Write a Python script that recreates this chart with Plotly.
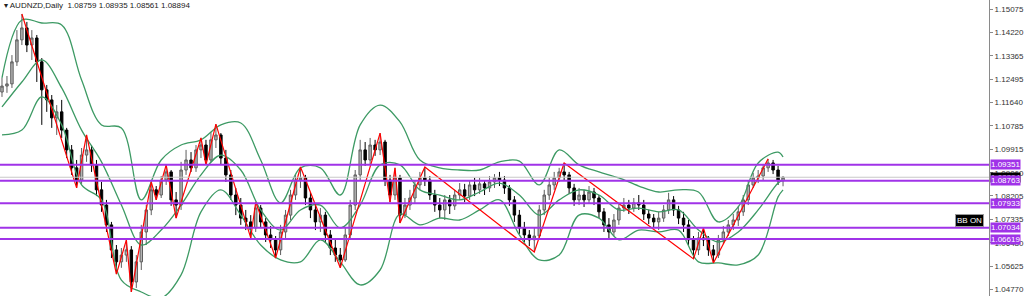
import plotly.graph_objects as go

# ---------------- data (AUDNZD, Daily) ----------------
open_ = [1.1203, 1.1225, 1.1233, 1.1314, 1.1395, 1.1439, 1.1376, 1.1402, 1.1314, 1.1211,
         1.1174, 1.1108, 1.1130, 1.1063, 1.0990, 1.0924, 1.0879, 1.0971, 1.0990, 1.0935,
         1.0843, 1.0787, 1.0714, 1.0622, 1.0578, 1.0603, 1.0622, 1.0504, 1.0578, 1.0688,
         1.0769, 1.0843, 1.0824, 1.0879, 1.0909, 1.0806, 1.0787, 1.0916, 1.0953, 1.0924,
         1.0990, 1.1008, 1.0953, 1.1027, 1.1045, 1.0960, 1.0898, 1.0824, 1.0787, 1.0739,
         1.0725, 1.0703, 1.0776, 1.0725, 1.0677, 1.0659, 1.0622, 1.0688, 1.0750, 1.0824,
         1.0879, 1.0887, 1.0813, 1.0769, 1.0725, 1.0750, 1.0677, 1.0629, 1.0603, 1.0585,
         1.0677, 1.0787, 1.0898, 1.0990, 1.0953, 1.1008, 1.0990, 1.1019, 1.0879, 1.0824,
         1.0887, 1.0750, 1.0787, 1.0813, 1.0861, 1.0887, 1.0879, 1.0824, 1.0787, 1.0769,
         1.0806, 1.0784, 1.0824, 1.0843, 1.0820, 1.0861, 1.0843, 1.0865, 1.0850, 1.0872,
         1.0887, 1.0879, 1.0850, 1.0806, 1.0750, 1.0703, 1.0677, 1.0659, 1.0673, 1.0769,
         1.0824, 1.0861, 1.0887, 1.0909, 1.0898, 1.0850, 1.0806, 1.0824, 1.0806, 1.0835,
         1.0813, 1.0762, 1.0714, 1.0688, 1.0732, 1.0776, 1.0787, 1.0776, 1.0795, 1.0787,
         1.0754, 1.0739, 1.0725, 1.0739, 1.0769, 1.0806, 1.0769, 1.0739, 1.0714, 1.0659,
         1.0622, 1.0666, 1.0659, 1.0622, 1.0603, 1.0659, 1.0688, 1.0714, 1.0732, 1.0762,
         1.0806, 1.0861, 1.0887, 1.0894, 1.0924, 1.0942, 1.0916, 1.08759]
high = [1.1255, 1.1262, 1.1339, 1.1431, 1.1490, 1.1461, 1.1431, 1.1413, 1.1328, 1.1229,
        1.1192, 1.1155, 1.1174, 1.1071, 1.1008, 1.0953, 1.0997, 1.1045, 1.1008, 1.0953,
        1.0872, 1.0806, 1.0725, 1.0640, 1.0629, 1.0659, 1.0636, 1.0603, 1.0714, 1.0787,
        1.0872, 1.0857, 1.0894, 1.0935, 1.0916, 1.0835, 1.0946, 1.0990, 1.0982, 1.1008,
        1.1034, 1.1027, 1.1056, 1.1085, 1.1052, 1.0990, 1.0916, 1.0850, 1.0813, 1.0769,
        1.0750, 1.0798, 1.0787, 1.0739, 1.0710, 1.0673, 1.0714, 1.0769, 1.0843, 1.0898,
        1.0927, 1.0898, 1.0835, 1.0787, 1.0776, 1.0762, 1.0695, 1.0659, 1.0629, 1.0703,
        1.0806, 1.0916, 1.1027, 1.1019, 1.1034, 1.1027, 1.1052, 1.1027, 1.0898, 1.0924,
        1.0898, 1.0813, 1.0843, 1.0879, 1.0909, 1.0927, 1.0894, 1.0843, 1.0813, 1.0824,
        1.0824, 1.0843, 1.0868, 1.0865, 1.0879, 1.0887, 1.0887, 1.0879, 1.0894, 1.0901,
        1.0909, 1.0894, 1.0861, 1.0820, 1.0769, 1.0725, 1.0695, 1.0703, 1.0787, 1.0843,
        1.0887, 1.0909, 1.0924, 1.0942, 1.0909, 1.0865, 1.0850, 1.0843, 1.0857, 1.0850,
        1.0824, 1.0776, 1.0739, 1.0754, 1.0791, 1.0813, 1.0806, 1.0813, 1.0824, 1.0806,
        1.0769, 1.0754, 1.0762, 1.0787, 1.0832, 1.0820, 1.0784, 1.0762, 1.0732, 1.0673,
        1.0688, 1.0703, 1.0673, 1.0640, 1.0677, 1.0710, 1.0732, 1.0754, 1.0784, 1.0824,
        1.0879, 1.0905, 1.0916, 1.0935, 1.0957, 1.0953, 1.0931, 1.08935]
low = [1.1185, 1.1200, 1.1218, 1.1299, 1.1376, 1.1350, 1.1321, 1.1240, 1.1082, 1.1130,
       1.1071, 1.1045, 1.1034, 1.0960, 1.0898, 1.0850, 1.0865, 1.0946, 1.0909, 1.0820,
       1.0762, 1.0688, 1.0592, 1.0533, 1.0556, 1.0578, 1.0467, 1.0482, 1.0548, 1.0640,
       1.0750, 1.0806, 1.0813, 1.0861, 1.0784, 1.0739, 1.0769, 1.0898, 1.0909, 1.0909,
       1.0960, 1.0935, 1.0946, 1.0997, 1.0935, 1.0872, 1.0806, 1.0750, 1.0714, 1.0695,
       1.0666, 1.0688, 1.0703, 1.0651, 1.0629, 1.0592, 1.0603, 1.0666, 1.0732, 1.0806,
       1.0850, 1.0787, 1.0739, 1.0695, 1.0688, 1.0651, 1.0603, 1.0578, 1.0556, 1.0578,
       1.0659, 1.0769, 1.0879, 1.0931, 1.0935, 1.0968, 1.0971, 1.0857, 1.0798, 1.0806,
       1.0721, 1.0739, 1.0769, 1.0795, 1.0843, 1.0857, 1.0806, 1.0762, 1.0739, 1.0732,
       1.0754, 1.0769, 1.0806, 1.0798, 1.0806, 1.0820, 1.0828, 1.0824, 1.0835, 1.0850,
       1.0857, 1.0828, 1.0784, 1.0725, 1.0681, 1.0651, 1.0636, 1.0614, 1.0659, 1.0750,
       1.0806, 1.0843, 1.0872, 1.0879, 1.0828, 1.0784, 1.0787, 1.0780, 1.0791, 1.0787,
       1.0739, 1.0688, 1.0659, 1.0673, 1.0714, 1.0762, 1.0754, 1.0762, 1.0769, 1.0732,
       1.0717, 1.0703, 1.0695, 1.0725, 1.0754, 1.0747, 1.0717, 1.0688, 1.0636, 1.0589,
       1.0603, 1.0636, 1.0600, 1.0574, 1.0592, 1.0644, 1.0673, 1.0695, 1.0710, 1.0747,
       1.0787, 1.0850, 1.0868, 1.0879, 1.0909, 1.0901, 1.0861, 1.08561]
close = [1.1225, 1.1233, 1.1314, 1.1395, 1.1439, 1.1376, 1.1402, 1.1314, 1.1211, 1.1174,
         1.1108, 1.1130, 1.1063, 1.0990, 1.0924, 1.0879, 1.0971, 1.0990, 1.0935, 1.0843,
         1.0787, 1.0714, 1.0622, 1.0578, 1.0603, 1.0622, 1.0504, 1.0578, 1.0688, 1.0769,
         1.0843, 1.0824, 1.0879, 1.0909, 1.0806, 1.0787, 1.0916, 1.0953, 1.0924, 1.0990,
         1.1008, 1.0953, 1.1027, 1.1045, 1.0960, 1.0898, 1.0824, 1.0787, 1.0739, 1.0725,
         1.0703, 1.0776, 1.0725, 1.0677, 1.0659, 1.0622, 1.0688, 1.0750, 1.0824, 1.0879,
         1.0887, 1.0813, 1.0769, 1.0725, 1.0750, 1.0677, 1.0629, 1.0603, 1.0585, 1.0677,
         1.0787, 1.0898, 1.0990, 1.0953, 1.1008, 1.0990, 1.1019, 1.0879, 1.0824, 1.0887,
         1.0750, 1.0787, 1.0813, 1.0861, 1.0887, 1.0879, 1.0824, 1.0787, 1.0769, 1.0806,
         1.0784, 1.0824, 1.0843, 1.0820, 1.0861, 1.0843, 1.0865, 1.0850, 1.0872, 1.0887,
         1.0879, 1.0850, 1.0806, 1.0750, 1.0703, 1.0677, 1.0659, 1.0673, 1.0769, 1.0824,
         1.0861, 1.0887, 1.0909, 1.0898, 1.0850, 1.0806, 1.0824, 1.0806, 1.0835, 1.0813,
         1.0762, 1.0714, 1.0688, 1.0732, 1.0776, 1.0787, 1.0776, 1.0795, 1.0787, 1.0754,
         1.0739, 1.0725, 1.0739, 1.0769, 1.0806, 1.0769, 1.0739, 1.0714, 1.0659, 1.0622,
         1.0666, 1.0659, 1.0622, 1.0603, 1.0659, 1.0688, 1.0714, 1.0732, 1.0762, 1.0806,
         1.0861, 1.0887, 1.0894, 1.0924, 1.0942, 1.0916, 1.0876, 1.08894]

# Bollinger Bands, read at every 4th bar
bb_idx = [0, 4, 8, 12, 16, 20, 24, 28, 32, 36, 40, 44, 48, 52, 56, 60, 64, 68, 72, 76,
          80, 84, 88, 92, 96, 100, 104, 108, 112, 116, 120, 124, 128, 132, 136, 140, 144,
          148, 152, 156, 157]
bb_upper = [1.1255, 1.1468, 1.1457, 1.1450, 1.1247, 1.1082, 1.1071, 1.0806, 1.0953, 1.1008,
            1.1027, 1.1082, 1.1089, 1.0953, 1.0795, 1.0924, 1.0924, 1.0824, 1.1082, 1.1155,
            1.1093, 1.0953, 1.0924, 1.0916, 1.0916, 1.0946, 1.0949, 1.0861, 1.0990, 1.0935,
            1.0909, 1.0887, 1.0857, 1.0835, 1.0843, 1.0835, 1.0725, 1.0780, 1.0942, 1.0982,
            1.0964]
bb_mid = [1.1148, 1.1240, 1.1321, 1.1218, 1.1063, 1.0946, 1.0787, 1.0640, 1.0695, 1.0787,
          1.0898, 1.0971, 1.0916, 1.0769, 1.0695, 1.0769, 1.0787, 1.0703, 1.0787, 1.0935,
          1.0935, 1.0843, 1.0824, 1.0806, 1.0835, 1.0868, 1.0824, 1.0750, 1.0806, 1.0843,
          1.0824, 1.0769, 1.0776, 1.0762, 1.0769, 1.0695, 1.0651, 1.0688, 1.0769, 1.0868,
          1.0879]
bb_lower = [1.1045, 1.1063, 1.1185, 1.1082, 1.0861, 1.0806, 1.0511, 1.0467, 1.0445, 1.0530,
            1.0762, 1.0843, 1.0750, 1.0640, 1.0585, 1.0578, 1.0659, 1.0578, 1.0493, 1.0548,
            1.0754, 1.0714, 1.0739, 1.0732, 1.0769, 1.0806, 1.0677, 1.0585, 1.0603, 1.0750,
            1.0739, 1.0659, 1.0695, 1.0688, 1.0695, 1.0578, 1.0574, 1.0567, 1.0603, 1.0817,
            1.0843]

# ZigZag swing points (bar index, price)
zz_idx = [4, 15, 17, 23, 25, 26, 30, 31, 33, 35, 40, 41, 43, 50, 51, 55, 60, 68, 76, 78,
          79, 80, 85, 107, 113, 139, 141, 143, 154]
zz_price = [1.1490, 1.0850, 1.1045, 1.0533, 1.0659, 1.0467, 1.0872, 1.0806, 1.0935, 1.0739,
            1.1034, 1.0935, 1.1085, 1.0666, 1.0798, 1.0592, 1.0927, 1.0556, 1.1052, 1.0798,
            1.0924, 1.0721, 1.0927, 1.0614, 1.0942, 1.0589, 1.0703, 1.0574, 1.0957]

# horizontal levels
levels = [1.09351, 1.08763, 1.07933, 1.07034, 1.06619]
last_price = 1.08894

# price scale
tick_vals = [1.15075, 1.14220, 1.13365, 1.12495, 1.11640, 1.10785, 1.09915,
             1.09060, 1.08205, 1.07335, 1.06480, 1.05625, 1.04770]
y_min, y_max = 1.04523, 1.15417
x_min, x_max = -0.4, 198.4

symbol = "AUDNZD,Daily"

# ---------------- figure ----------------
bars = list(range(len(close)))
PURPLE = "#a033e8"
GREEN = "#3d9a64"

fig = go.Figure()

fig.add_trace(go.Candlestick(
    x=bars, open=open_, high=high, low=low, close=close,
    increasing=dict(line=dict(color="#5e5e5e", width=1), fillcolor="#b4b4b4"),
    decreasing=dict(line=dict(color="#000000", width=1), fillcolor="#000000"),
    whiskerwidth=0, hoverinfo="skip", showlegend=False))

for band in (bb_upper, bb_mid, bb_lower):
    fig.add_trace(go.Scatter(x=bb_idx, y=band, mode="lines",
                             line=dict(color=GREEN, width=1.3, shape="spline", smoothing=1.0),
                             hoverinfo="skip", showlegend=False))

fig.add_trace(go.Scatter(x=zz_idx, y=zz_price, mode="lines",
                         line=dict(color="#ff0000", width=1.2),
                         hoverinfo="skip", showlegend=False))

# current price line
fig.add_shape(type="line", xref="paper", x0=0, x1=1, yref="y", y0=last_price, y1=last_price,
              line=dict(color="#c8c8c8", width=1))
for lv in levels:
    fig.add_shape(type="line", xref="paper", x0=0, x1=1, yref="y", y0=lv, y1=lv,
                  line=dict(color=PURPLE, width=2))

annotations = []
annotations.append(dict(xref="paper", yref="y", x=1, y=last_price, xanchor="left", yanchor="middle",
                        text=f"{last_price:.5f}", showarrow=False, xshift=1,
                        bgcolor="#000000", font=dict(color="#ffffff", size=8, family="Liberation Sans"),
                        borderpad=0))
for lv in levels:
    annotations.append(dict(xref="paper", yref="y", x=1, y=lv, xanchor="left", yanchor="middle",
                            text=f"{lv:.5f}", showarrow=False, xshift=1,
                            bgcolor=PURPLE, font=dict(color="#ffffff", size=8, family="Liberation Sans"),
                            borderpad=0))
annotations.append(dict(xref="paper", yref="paper", x=0.002, y=1, xanchor="left", yanchor="top",
                        text="\u25BE " + symbol + "  " + " ".join(f"{v:.5f}" for v in
                                                               (open_[-1], high[-1], low[-1], close[-1])),
                        showarrow=False, font=dict(color="#222222", size=8, family="Liberation Sans"),
                        yshift=1))
annotations.append(dict(xref="paper", yref="y", x=0.98, y=1.0732, xanchor="center", yanchor="middle",
                        text="BB ON", showarrow=False, bgcolor="#000000", bordercolor="#9a9a9a",
                        borderwidth=1, borderpad=1,
                        font=dict(color="#ffffff", size=8, family="Liberation Sans")))

fig.update_layout(
    width=1024, height=296,
    margin=dict(l=0, r=30, t=0, b=0),
    paper_bgcolor="#ffffff", plot_bgcolor="#ffffff",
    showlegend=False,
    annotations=annotations,
    xaxis=dict(range=[x_min, x_max], showgrid=False, zeroline=False, showticklabels=False,
               showline=False, ticks="", rangeslider=dict(visible=False)),
    yaxis=dict(range=[y_min, y_max], side="right", showgrid=False, zeroline=False,
               showline=True, linecolor="#8a8a8a", linewidth=1,
               ticks="outside", ticklen=3, tickcolor="#8a8a8a",
               tickvals=tick_vals, ticktext=[f"{v:.5f}" for v in tick_vals],
               tickfont=dict(size=8, color="#333333", family="Liberation Sans")),
)

fig.write_html("out.html")
